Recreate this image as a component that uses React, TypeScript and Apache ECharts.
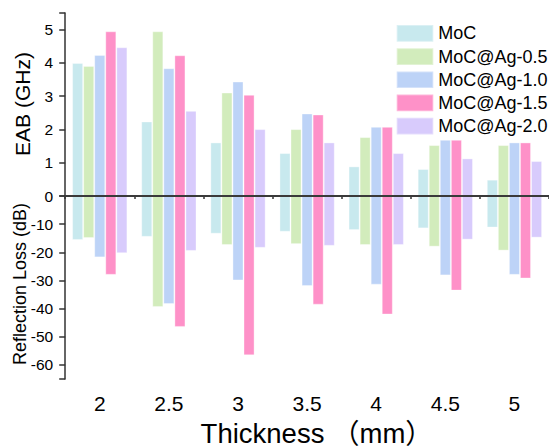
import React, { useEffect, useRef } from "react";
import * as echarts from "echarts";

const categories = ["2", "2.5", "3", "3.5", "4", "4.5", "5"];
const seriesNames = ["MoC", "MoC@Ag-0.5", "MoC@Ag-1.0", "MoC@Ag-1.5", "MoC@Ag-2.0"];
const colors = ["#c8e9ee", "#d2ecbc", "#bdd3f7", "#fe91c8", "#d8cbfc"];

// EAB (GHz)
const eabMoC = [4.0, 2.24, 1.61, 1.29, 0.89, 0.81, 0.49];
const eabAg05 = [3.91, 4.95, 3.11, 2.01, 1.77, 1.53, 1.53];
const eabAg10 = [4.24, 3.84, 3.44, 2.48, 2.08, 1.69, 1.61];
const eabAg15 = [4.95, 4.23, 3.04, 2.45, 2.08, 1.69, 1.61];
const eabAg20 = [4.47, 2.56, 2.01, 1.61, 1.29, 1.13, 1.05];

// Reflection loss (dB)
const rlMoC = [-15.6, -14.5, -13.4, -12.7, -12.1, -11.5, -11.2];
const rlAg05 = [-14.9, -39.4, -17.4, -17.1, -17.4, -18.0, -19.4];
const rlAg10 = [-21.8, -38.4, -30.0, -32.0, -31.5, -28.2, -28.0];
const rlAg15 = [-28.0, -46.5, -56.6, -38.6, -42.1, -33.6, -29.3];
const rlAg20 = [-20.3, -19.5, -18.4, -17.7, -17.4, -15.5, -14.8];

const eabSeries = [eabMoC, eabAg05, eabAg10, eabAg15, eabAg20];
const rlSeries = [rlMoC, rlAg05, rlAg10, rlAg15, rlAg20];

const FONT = "'Liberation Sans', Arial, Helvetica, sans-serif";
const LINE = "#333333";

export default function App() {
  const ref = useRef<HTMLDivElement>(null);
  useEffect(() => {
    if (!ref.current) return;
    const chart = echarts.init(ref.current, null, { renderer: "svg" });
    const gridLeft = 65.2;
    const gridWidth = 487.2;
    const hiddenAxisCommon = {
      axisLabel: { show: false },
      axisTick: { show: false },
      splitLine: { show: false },
    };
    const option: any = {
      animation: false,
      backgroundColor: "#ffffff",
      textStyle: { fontFamily: FONT },
      grid: [
        { left: gridLeft, top: 13, width: gridWidth, height: 183 },
        { left: gridLeft, top: 196, width: gridWidth, height: 183 },
      ],
      legend: {
        orient: "vertical",
        left: 390.7,
        top: 19,
        itemWidth: 36.6,
        itemHeight: 16.7,
        itemGap: 4.5,
        icon: "rect",
        data: seriesNames,
        textStyle: { fontSize: 18, color: "#000", fontFamily: FONT, lineHeight: 18.5 },
      },
      xAxis: [
        {
          type: "category",
          gridIndex: 0,
          data: categories,
          position: "bottom",
          z: 10,
          axisLine: { show: true, lineStyle: { color: "#3a3a3a", width: 2 } },
          ...hiddenAxisCommon,
        },
        {
          type: "category",
          gridIndex: 0,
          data: categories,
          position: "top",
          axisLine: { show: true, lineStyle: { color: LINE, width: 1.5 } },
          ...hiddenAxisCommon,
        },
        {
          type: "category",
          gridIndex: 1,
          data: categories,
          position: "bottom",
          axisLine: { show: true, lineStyle: { color: LINE, width: 1.5 } },
          axisTick: { show: true, alignWithLabel: true, length: 6, inside: false, lineStyle: { color: LINE, width: 1.5 } },
          axisLabel: { show: true, fontSize: 21, color: "#000", margin: 13.5, fontFamily: FONT },
          splitLine: { show: false },
        },
        {
          type: "category",
          gridIndex: 1,
          data: categories,
          position: "bottom",
          axisLine: { show: false },
          axisTick: { show: true, alignWithLabel: false, length: 3, lineStyle: { color: LINE, width: 1.5 } },
          axisLabel: { show: false },
          splitLine: { show: false },
        },
      ],
      yAxis: [
        {
          type: "value",
          gridIndex: 0,
          min: 0,
          max: 5.5,
          interval: 1,
          axisLine: { show: true, lineStyle: { color: LINE, width: 1.5 } },
          axisTick: { show: true, length: 6, lineStyle: { color: LINE, width: 1.5 } },
          axisLabel: {
            fontSize: 15.5,
            color: "#000",
            margin: 12,
            fontFamily: FONT,
            formatter: (v: number) => (v === 0 || v !== Math.round(v) ? "" : String(v)),
          },
          splitLine: { show: false },
        },
        {
          type: "value",
          gridIndex: 0,
          min: 0,
          max: 5.5,
          interval: 0.5,
          axisLine: { show: false },
          axisTick: { show: true, length: 3, lineStyle: { color: LINE, width: 1.5 } },
          axisLabel: { show: false },
          splitLine: { show: false },
        },
        {
          type: "value",
          gridIndex: 1,
          inverse: true,
          min: 0,
          max: 65,
          interval: 10,
          axisLine: { show: true, lineStyle: { color: LINE, width: 1.5 } },
          axisTick: { show: true, length: 6, lineStyle: { color: LINE, width: 1.5 } },
          axisLabel: {
            fontSize: 15.5,
            color: "#000",
            margin: 12,
            fontFamily: FONT,
            formatter: (v: number) => (v === 0 ? "0" : v % 10 === 0 ? "-" + v : ""),
          },
          splitLine: { show: false },
        },
        {
          type: "value",
          gridIndex: 1,
          inverse: true,
          min: 0,
          max: 65,
          interval: 5,
          axisLine: { show: false },
          axisTick: { show: true, length: 3, lineStyle: { color: LINE, width: 1.5 } },
          axisLabel: { show: false },
          splitLine: { show: false },
        },
      ],
      series: [
        ...eabSeries.map((d, i) => ({
          name: seriesNames[i],
          type: "bar",
          xAxisIndex: 0,
          yAxisIndex: 0,
          data: d,
          barGap: "0%",
          barCategoryGap: "20%",
          itemStyle: { color: colors[i], borderColor: "rgba(255,255,255,0.35)", borderWidth: 1 },
        })),
        ...rlSeries.map((d, i) => ({
          name: seriesNames[i],
          type: "bar",
          xAxisIndex: 2,
          yAxisIndex: 2,
          data: d.map((v) => Math.abs(v)),
          barGap: "0%",
          barCategoryGap: "20%",
          itemStyle: { color: colors[i], borderColor: "rgba(255,255,255,0.35)", borderWidth: 1 },
        })),
      ],
      graphic: [
        {
          type: "text",
          x: 22,
          y: 104,
          rotation: Math.PI / 2,
          style: {
            text: "EAB (GHz)",
            fontSize: 21,
            fontFamily: FONT,
            fill: "#000",
            textAlign: "center",
            textVerticalAlign: "middle",
          },
        },
        {
          type: "text",
          x: 19.5,
          y: 284,
          rotation: Math.PI / 2,
          style: {
            text: "Reflection Loss (dB)",
            fontSize: 18,
            fontFamily: FONT,
            fill: "#000",
            textAlign: "center",
            textVerticalAlign: "middle",
          },
        },
        {
          type: "text",
          x: 200.6,
          y: 433,
          style: {
            text: "Thickness （mm）",
            fontSize: 27.5,
            lineHeight: 22,
            fontFamily: FONT + ", 'Noto Sans CJK SC'",
            fill: "#000",
            textAlign: "left",
            textVerticalAlign: "middle",
          },
        },
      ],
    };
    chart.setOption(option);
    return () => chart.dispose();
  }, []);
  return (
    <div
      ref={ref}
      style={{ position: "fixed", left: 0, top: 0, width: 549, height: 447, background: "#fff" }}
    />
  );
}
